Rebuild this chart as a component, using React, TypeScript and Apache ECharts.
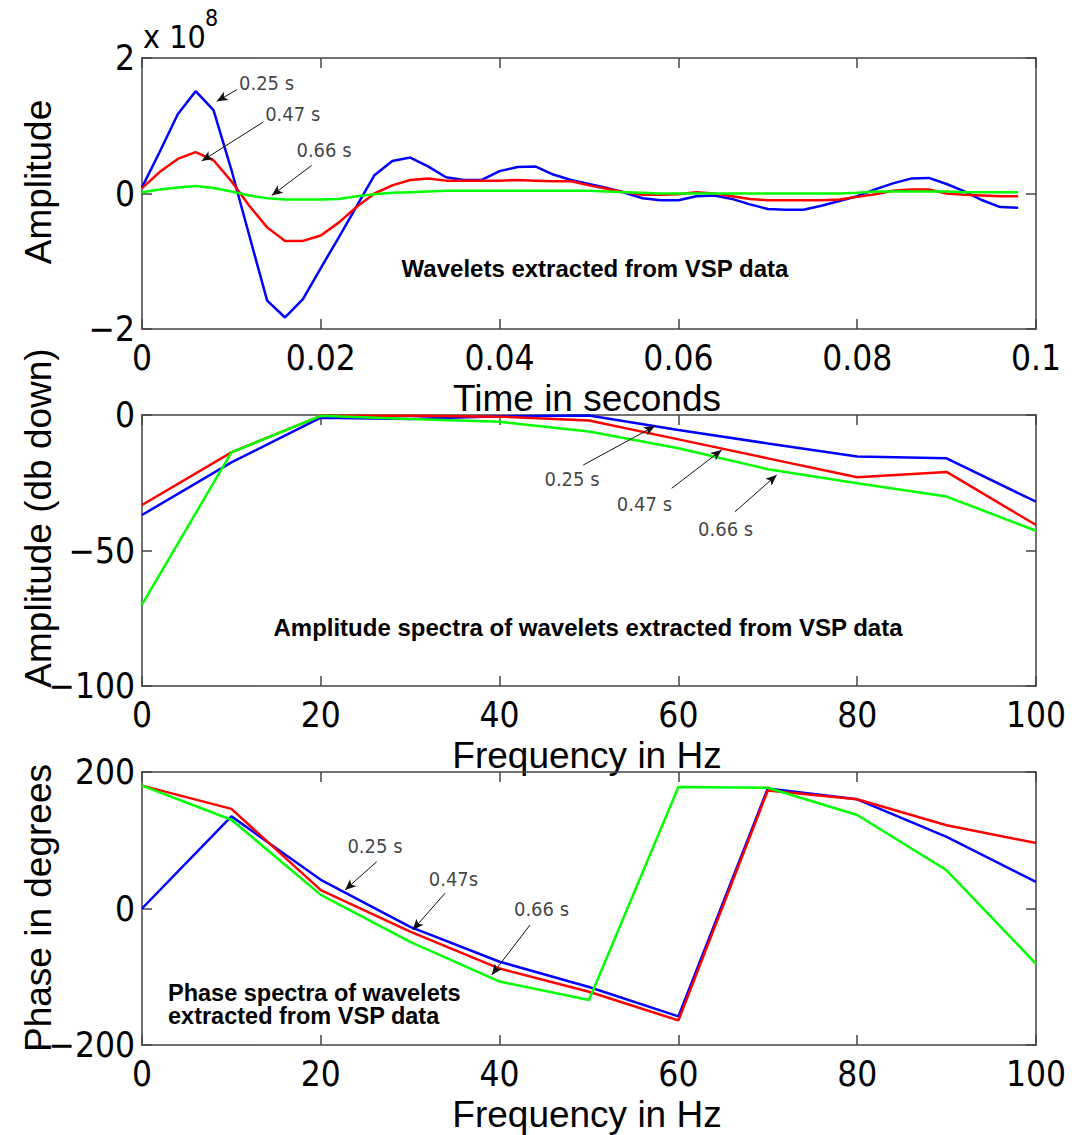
import React, { useEffect, useRef } from "react";
import * as echarts from "echarts";

// ---------- data ----------
const TIME_S = [
  0, 0.002, 0.004, 0.006, 0.008, 0.01, 0.012, 0.014, 0.016, 0.018,
  0.02, 0.022, 0.024, 0.026, 0.028, 0.03, 0.032, 0.034, 0.036, 0.038,
  0.04, 0.042, 0.044, 0.046, 0.048, 0.05, 0.052, 0.054, 0.056, 0.058,
  0.06, 0.062, 0.064, 0.066, 0.068, 0.07, 0.072, 0.074, 0.076, 0.078,
  0.08, 0.082, 0.084, 0.086, 0.088, 0.09, 0.092, 0.094, 0.096, 0.098,
];
// amplitudes in units of 1e8
const WAVELET_025 = [
  0.09, 0.62, 1.17, 1.51, 1.23, 0.35, -0.62, -1.58, -1.83, -1.56,
  -1.1, -0.65, -0.19, 0.27, 0.48, 0.53, 0.4, 0.24, 0.2, 0.2,
  0.33, 0.39, 0.4, 0.28, 0.2, 0.14, 0.08, 0.01, -0.07, -0.1,
  -0.1, -0.04, -0.03, -0.08, -0.16, -0.23, -0.24, -0.24, -0.18, -0.11,
  -0.04, 0.06, 0.15, 0.22, 0.23, 0.14, 0.03, -0.1, -0.2, -0.21,
];
const WAVELET_047 = [
  0.08, 0.32, 0.51, 0.61, 0.49, 0.18, -0.18, -0.5, -0.7, -0.7,
  -0.62, -0.43, -0.2, 0.0, 0.12, 0.2, 0.22, 0.19, 0.19, 0.19,
  0.19, 0.2, 0.19, 0.18, 0.18, 0.12, 0.07, 0.02, -0.02, -0.02,
  -0.01, 0.02, 0.0, -0.04, -0.08, -0.1, -0.1, -0.1, -0.1, -0.09,
  -0.05, -0.01, 0.04, 0.06, 0.06, 0.0, -0.02, -0.03, -0.04, -0.04,
];
const WAVELET_066 = [
  0.02, 0.06, 0.09, 0.11, 0.08, 0.03, -0.03, -0.07, -0.09, -0.09,
  -0.09, -0.08, -0.04, -0.01, 0.01, 0.02, 0.03, 0.04, 0.04, 0.04,
  0.04, 0.04, 0.04, 0.04, 0.04, 0.04, 0.03, 0.02, 0.01, 0.0,
  0.0, 0.0, 0.0, 0.0, 0.0, 0.0, 0.0, 0.0, 0.0, 0.0,
  0.01, 0.03, 0.03, 0.03, 0.03, 0.03, 0.02, 0.02, 0.02, 0.02,
];

const FREQ_HZ = [0, 10, 20, 30, 40, 50, 60, 70, 80, 90, 100];
const AMP_DB_025 = [-36.9, -17.5, -1.0, -1.5, -0.5, -0.2, -5.5, -10.5, -15.3, -16.0, -32.0];
const AMP_DB_047 = [-33.2, -13.8, -0.3, -0.3, -0.6, -2.0, -9.0, -16.0, -23.0, -21.0, -40.6];
const AMP_DB_066 = [-70.0, -13.8, -0.3, -1.5, -2.5, -6.1, -12.3, -20.0, -25.2, -30.1, -42.7];

const PHASE_025 = [0, 135, 42, -27, -78, -115, -158, 176, 160, 105, 39];
const PHASE_047 = [180, 146, 27, -34, -88, -122, -164, 173, 160, 122, 96];
const PHASE_066 = [180, 130, 20, -49, -107, -134, 178, 177, 137, 56, -81];

// tick labels
const TIME_TICKS = [0, 0.02, 0.04, 0.06, 0.08, 0.1];
const WAVELET_TICKS = [-2, 0, 2];
const FREQ_TICKS = [0, 20, 40, 60, 80, 100];
const AMP_DB_TICKS = [-100, -50, 0];
const PHASE_TICKS = [-200, 0, 200];

// annotations: label text, label anchor, arrow start, arrow tip (data units)
const WAVELET_NOTES = [
  { text: "0.25 s", at: [0.01393, 1.637], from: [0.01059, 1.53], to: [0.00836, 1.36] },
  { text: "0.47 s", at: [0.01686, 1.17], from: [0.01357, 1.056], to: [0.00668, 0.48] },
  { text: "0.66 s", at: [0.02036, 0.637], from: [0.01898, 0.415], to: [0.01451, -0.03] },
];
const AMP_NOTES = [
  { text: "0.25 s", at: [48.1, -23.6], from: [49.36, -18.45], to: [57.38, -4.06] },
  { text: "0.47 s", at: [56.2, -32.8], from: [59.25, -27.05], to: [64.84, -12.92] },
  { text: "0.66 s", at: [65.28, -42.1], from: [66.33, -35.68], to: [71.0, -22.14] },
];
const PHASE_NOTES = [
  { text: "0.25 s", at: [26.06, 91.6], from: [26.25, 68.6], to: [22.71, 27.1] },
  { text: "0.47s", at: [34.84, 43.2], from: [33.89, 22.3], to: [30.28, -31.5] },
  { text: "0.66 s", at: [44.69, -0.7], from: [43.4, -24.2], to: [39.12, -97.4] },
];

// ---------- styling ----------
const FRAME = "#444";
const NARROW = '"Liberation Sans Narrow", "DejaVu Sans Condensed", "Liberation Sans", sans-serif';
const SANS = '"Liberation Sans", Arial, sans-serif';
const COLORS = { s025: "#0000ff", s047: "#ff0000", s066: "#00ff00" };

const GRIDS = [
  { left: 142, top: 58, width: 894, height: 271 },
  { left: 142, top: 415, width: 894, height: 271 },
  { left: 142, top: 772, width: 894, height: 273 },
];

const fmtTick = (v: number) => String(Math.round(v * 1000) / 1000).replace("-", "\u2212");

function xAxes(grid: number, ticks: number[]) {
  const min = ticks[0];
  const max = ticks[ticks.length - 1];
  const interval = ticks[1] - ticks[0];
  const common = {
    type: "value",
    gridIndex: grid,
    min,
    max,
    interval,
    splitLine: { show: false },
    axisLine: { show: true, onZero: false, lineStyle: { color: FRAME, width: 1.5 } },
    axisTick: { show: true, inside: true, length: 10, lineStyle: { color: FRAME, width: 1.5 } },
  };
  return [
    {
      ...common,
      position: "bottom",
      axisLabel: {
        show: true,
        margin: 14,
        lineHeight: 30,
        color: "#000",
        fontFamily: NARROW,
        fontSize: 35,
        formatter: fmtTick,
      },
    },
    { ...common, position: "top", axisLabel: { show: false } },
  ];
}

function yAxes(grid: number, ticks: number[]) {
  const min = ticks[0];
  const max = ticks[ticks.length - 1];
  const interval = ticks[1] - ticks[0];
  const common = {
    type: "value",
    gridIndex: grid,
    min,
    max,
    interval,
    splitLine: { show: false },
    axisLine: { show: true, onZero: false, lineStyle: { color: FRAME, width: 1.5 } },
    axisTick: { show: true, inside: true, length: 10, lineStyle: { color: FRAME, width: 1.5 } },
  };
  return [
    {
      ...common,
      position: "left",
      axisLabel: {
        show: true,
        margin: 7,
        lineHeight: 26,
        color: "#000",
        fontFamily: NARROW,
        fontSize: 35,
        formatter: fmtTick,
      },
    },
    { ...common, position: "right", axisLabel: { show: false } },
  ];
}

function lineSeries(grid: number, xs: number[], ys: number[], color: string, name: string) {
  return {
    type: "line",
    name,
    xAxisIndex: grid * 2,
    yAxisIndex: grid * 2,
    data: xs.map((x, i) => [x, ys[i]]),
    showSymbol: false,
    symbol: "none",
    lineStyle: { color, width: 2.5 },
    itemStyle: { color },
    z: 3,
  };
}

function noteSeries(grid: number, notes: { text: string; at: number[]; from: number[]; to: number[] }[]) {
  return {
    type: "scatter",
    xAxisIndex: grid * 2,
    yAxisIndex: grid * 2,
    data: notes.map((n) => [n.at[0], n.at[1], n.text]),
    symbolSize: 1,
    itemStyle: { color: "rgba(0,0,0,0)" },
    label: {
      show: true,
      position: "inside",
      formatter: (p: any) => p.data[2],
      color: "#111",
      fontFamily: NARROW,
      fontSize: 20,
    },
    silent: true,
    z: 5,
    markLine: {
      silent: true,
      symbolSize: [7, 11],
      label: { show: false },
      lineStyle: { color: "#111", width: 1, type: "solid" },
      data: notes.map((n) => [
        { coord: n.from, symbol: "none" },
        { coord: n.to, symbol: "arrow" },
      ]),
    },
  };
}

function textEl(
  text: string,
  x: number,
  y: number,
  font: string,
  align = "center",
  rotation = 0,
  lineHeight = 30
) {
  return {
    type: "text",
    x,
    y,
    rotation,
    silent: true,
    style: {
      text,
      font,
      fill: "#000",
      lineHeight,
      align,
      verticalAlign: "middle",
      textAlign: align,
      textVerticalAlign: "middle",
    },
  };
}

const option: any = {
  animation: false,
  backgroundColor: "#fff",
  grid: GRIDS.map((g) => ({ ...g, containLabel: false })),
  xAxis: [...xAxes(0, TIME_TICKS), ...xAxes(1, FREQ_TICKS), ...xAxes(2, FREQ_TICKS)],
  yAxis: [...yAxes(0, WAVELET_TICKS), ...yAxes(1, AMP_DB_TICKS), ...yAxes(2, PHASE_TICKS)],
  series: [
    lineSeries(0, TIME_S, WAVELET_025, COLORS.s025, "0.25 s"),
    lineSeries(0, TIME_S, WAVELET_047, COLORS.s047, "0.47 s"),
    lineSeries(0, TIME_S, WAVELET_066, COLORS.s066, "0.66 s"),
    lineSeries(1, FREQ_HZ, AMP_DB_025, COLORS.s025, "0.25 s"),
    lineSeries(1, FREQ_HZ, AMP_DB_047, COLORS.s047, "0.47 s"),
    lineSeries(1, FREQ_HZ, AMP_DB_066, COLORS.s066, "0.66 s"),
    lineSeries(2, FREQ_HZ, PHASE_025, COLORS.s025, "0.25 s"),
    lineSeries(2, FREQ_HZ, PHASE_047, COLORS.s047, "0.47 s"),
    lineSeries(2, FREQ_HZ, PHASE_066, COLORS.s066, "0.66 s"),
    noteSeries(0, WAVELET_NOTES),
    noteSeries(1, AMP_NOTES),
    noteSeries(2, PHASE_NOTES),
  ],
  graphic: [
    textEl("x 10", 143, 37, `32px ${NARROW}`, "left"),
    textEl("8", 205, 18, `23px ${NARROW}`, "left"),
    textEl("Amplitude", 38, 182, `37px ${SANS}`, "center", Math.PI / 2),
    textEl("Amplitude (db down)", 38, 518, `37px ${SANS}`, "center", Math.PI / 2),
    textEl("Phase in degrees", 38, 908, `37px ${SANS}`, "center", Math.PI / 2),
    textEl("Time in seconds", 587, 398, `37px ${SANS}`),
    textEl("Frequency in Hz", 587, 755, `37px ${SANS}`),
    textEl("Frequency in Hz", 587, 1114, `37px ${SANS}`),
    textEl("Wavelets extracted from VSP data", 595, 268, `bold 24px ${SANS}`),
    textEl("Amplitude spectra of wavelets extracted from VSP data", 588, 627, `bold 24px ${SANS}`),
    textEl(
      "Phase spectra of wavelets\nextracted from VSP data",
      168,
      1004.5,
      `bold 23.5px ${SANS}`,
      "left",
      0,
      23.5
    ),
  ],
};

export default function App() {
  const ref = useRef<HTMLDivElement>(null);
  useEffect(() => {
    if (!ref.current) return;
    const chart = echarts.init(ref.current, null, { renderer: "svg" });
    chart.setOption(option);
    return () => chart.dispose();
  }, []);
  return (
    <div
      ref={ref}
      style={{ position: "absolute", left: 0, top: 0, width: 1072, height: 1135, background: "#fff" }}
    />
  );
}
